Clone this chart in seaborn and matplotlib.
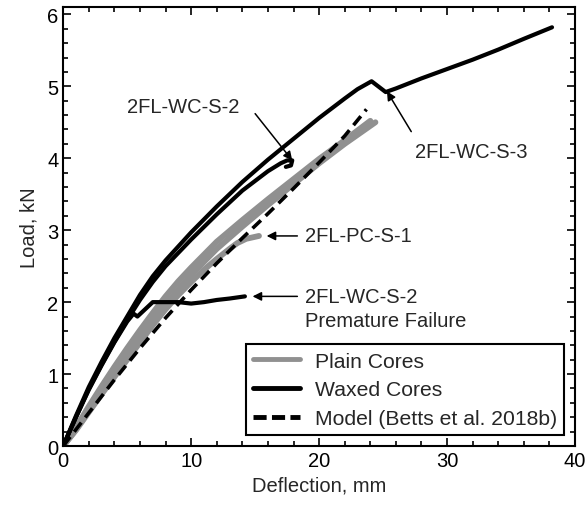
import matplotlib
matplotlib.use("Agg")
import matplotlib.pyplot as plt
from matplotlib.lines import Line2D
from matplotlib.ticker import MultipleLocator
import seaborn as sns
import pandas as pd

# ---- data ----
wc_s3_x = [0, 1, 2, 3, 4, 5, 6, 7, 8, 10, 12, 14, 16, 18, 20, 22, 23, 24.1, 25.2, 26, 28, 30, 32, 34, 36, 38.2]
wc_s3_y = [0, 0.42, 0.82, 1.17, 1.5, 1.8, 2.1, 2.36, 2.58, 2.97, 3.33, 3.67, 3.98, 4.27, 4.56, 4.83, 4.96, 5.07, 4.92, 4.97, 5.11, 5.24, 5.37, 5.51, 5.66, 5.82]

wc_s2_x = [0, 1, 2, 3, 4, 5, 6, 7, 8, 10, 12, 14, 16, 17, 17.5, 17.9, 17.8, 17.4]
wc_s2_y = [0, 0.4, 0.79, 1.13, 1.45, 1.75, 2.03, 2.28, 2.5, 2.87, 3.22, 3.55, 3.82, 3.93, 3.97, 3.97, 3.9, 3.88]

wc_pf_x = [0, 1, 2, 3, 4, 5, 5.5, 5.8, 6.4, 7, 8, 9, 10, 11, 12, 13, 14.2]
wc_pf_y = [0, 0.4, 0.78, 1.12, 1.44, 1.73, 1.84, 1.8, 1.9, 2.0, 2.0, 2.0, 1.98, 2.0, 2.03, 2.05, 2.08]

pc_s1_x = [0, 1, 2, 3, 4, 5, 6, 7, 8, 9, 10, 11, 12, 13, 13.6, 14.3, 15.3]
pc_s1_y = [0, 0.22, 0.47, 0.72, 0.96, 1.2, 1.44, 1.68, 1.9, 2.1, 2.28, 2.45, 2.6, 2.74, 2.82, 2.88, 2.92]

pc_s2_x = [0, 1, 2, 3, 4, 5, 6, 7, 8, 9, 10, 12, 14, 16, 18, 20, 22, 24.4]
pc_s2_y = [0, 0.23, 0.49, 0.75, 1.0, 1.25, 1.5, 1.74, 1.97, 2.18, 2.38, 2.74, 3.05, 3.35, 3.64, 3.93, 4.2, 4.5]

pc_s3_x = [0, 1, 2, 3, 4, 5, 6, 7, 8, 9, 10, 12, 14, 16, 18, 20, 22, 24.0]
pc_s3_y = [0, 0.26, 0.55, 0.83, 1.1, 1.36, 1.61, 1.85, 2.08, 2.29, 2.48, 2.84, 3.14, 3.43, 3.71, 3.99, 4.25, 4.52]

model_x = [0, 2, 4, 6, 8, 10, 12, 14, 16, 18, 20, 22, 23.7]
model_y = [0, 0.46, 0.92, 1.36, 1.78, 2.17, 2.54, 2.89, 3.23, 3.58, 3.94, 4.31, 4.68]

legend_labels = ["Plain Cores", "Waxed Cores", "Model (Betts et al. 2018b)"]

# ---- style ----
sns.set_theme(style="ticks")
plt.rcParams['font.family'] = ['Liberation Sans', 'DejaVu Sans']
FS = 14.5
LFS = 15.2
GRAY = "#909090"

fig = plt.figure(figsize=(5.85, 5.10), dpi=100)
ax = fig.add_axes([0.108, 0.1235, 0.875, 0.8605])

def draw(xs, ys, color, lw):
    df = pd.DataFrame({"x": xs, "y": ys})
    sns.lineplot(data=df, x="x", y="y", sort=False, estimator=None, color=color,
                 lw=lw, ax=ax, legend=False)

draw(pc_s1_x, pc_s1_y, GRAY, 4.2)
draw(pc_s2_x, pc_s2_y, GRAY, 4.2)
draw(pc_s3_x, pc_s3_y, GRAY, 4.2)
draw(wc_s3_x, wc_s3_y, "black", 3.0)
draw(wc_s2_x, wc_s2_y, "black", 3.0)
draw(wc_pf_x, wc_pf_y, "black", 3.0)
draw(model_x, model_y, "black", 2.6)
ax.lines[-1].set_dashes([3.2, 1.8])

ax.set_xlim(0, 40)
ax.set_ylim(0, 6.1)
ax.xaxis.set_major_locator(MultipleLocator(10))
ax.xaxis.set_minor_locator(MultipleLocator(2))
ax.yaxis.set_major_locator(MultipleLocator(1))
ax.yaxis.set_minor_locator(MultipleLocator(0.2))
ax.tick_params(which="both", direction="in", top=True, right=True, colors="black",
               labelsize=FS, width=1.2)
ax.tick_params(which="major", length=6)
ax.tick_params(which="minor", length=3.5)
for s in ax.spines.values():
    s.set_linewidth(1.5)
    s.set_color("black")
ax.set_xlabel("Deflection, mm", fontsize=FS, labelpad=4)
ax.set_ylabel("Load, kN", fontsize=FS, labelpad=6)

arrow = dict(arrowstyle="-|>", color="black", lw=1.1, mutation_scale=13, shrinkA=0, shrinkB=0)
ax.annotate("", xy=(17.9, 3.97), xytext=(15.0, 4.62), arrowprops=arrow)
ax.text(5.0, 4.72, "2FL-WC-S-2", fontsize=FS, va="center", ha="left")
ax.annotate("", xy=(25.3, 4.93), xytext=(27.2, 4.37), arrowprops=arrow)
ax.text(27.5, 4.1, "2FL-WC-S-3", fontsize=FS, va="center", ha="left")
ax.annotate("", xy=(15.9, 2.92), xytext=(18.3, 2.92), arrowprops=arrow)
ax.text(18.9, 2.92, "2FL-PC-S-1", fontsize=FS, va="center", ha="left")
ax.annotate("", xy=(14.8, 2.08), xytext=(18.3, 2.08), arrowprops=arrow)
ax.text(18.9, 2.08, "2FL-WC-S-2", fontsize=FS, va="center", ha="left")
ax.text(18.9, 1.74, "Premature Failure", fontsize=FS, va="center", ha="left")

handles = [Line2D([], [], color=GRAY, lw=3.5),
           Line2D([], [], color="black", lw=3.5),
           Line2D([], [], color="black", lw=3.5, dashes=[2.7, 1.1])]
leg = ax.legend(handles, legend_labels, loc="lower right", fontsize=LFS, frameon=True,
                fancybox=False, framealpha=1, edgecolor="black", handlelength=2.24,
                handletextpad=0.7, labelspacing=0.46, borderaxespad=0.5, borderpad=0.35)
leg.get_frame().set_linewidth(1.5)

fig.savefig("out.png", dpi=100)
